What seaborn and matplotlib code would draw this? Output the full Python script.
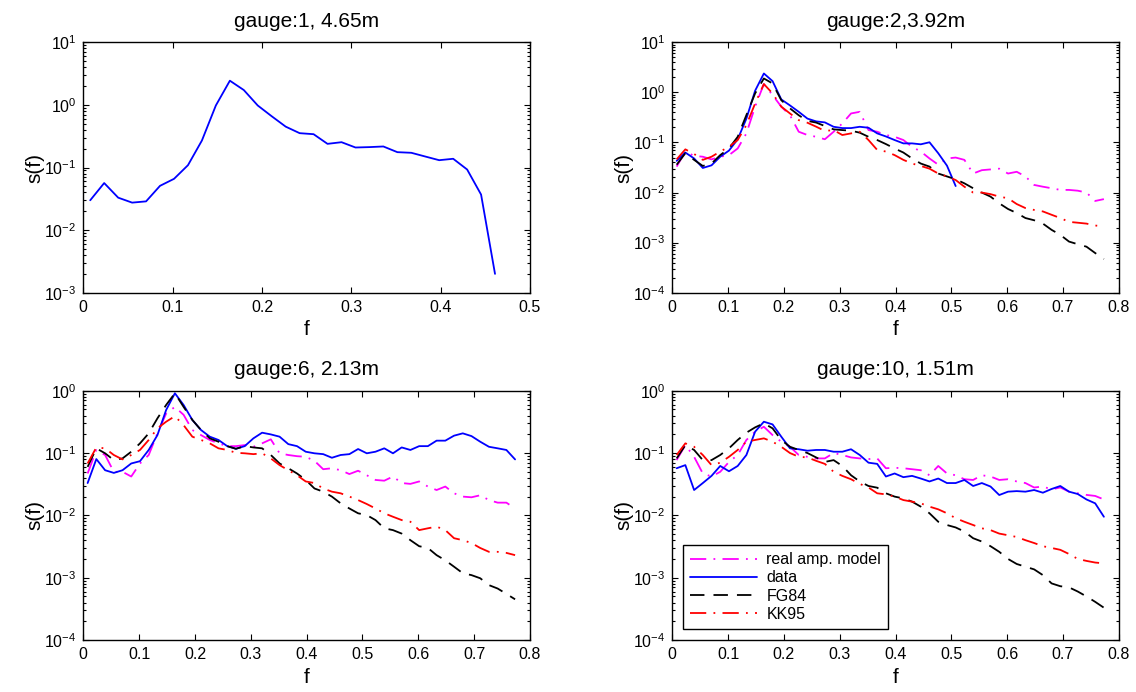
import numpy as np
import pandas as pd
import matplotlib
matplotlib.use("Agg")
import matplotlib.pyplot as plt
from matplotlib.ticker import LogLocator, NullFormatter
import seaborn as sns

# ---------------- data ----------------
freq = [0.0078, 0.0234, 0.0391, 0.0547, 0.0703, 0.0859, 0.1016, 0.1172, 0.1328, 0.1484,
        0.1641, 0.1797, 0.1953, 0.2109, 0.2266, 0.2422, 0.2578, 0.2734, 0.2891, 0.3047,
        0.3203, 0.3359, 0.3516, 0.3672, 0.3828, 0.3984, 0.4141, 0.4297, 0.4453, 0.4609,
        0.4766, 0.4922, 0.5078, 0.5234, 0.5391, 0.5547, 0.5703, 0.5859, 0.6016, 0.6172,
        0.6328, 0.6484, 0.6641, 0.6797, 0.6953, 0.7109, 0.7266, 0.7422, 0.7578, 0.7734]

titles = ["gauge:1, 4.65m", "gauge:2,3.92m", "gauge:6, 2.13m", "gauge:10, 1.51m"]
series_names = ["real amp. model", "data", "FG84", "KK95"]

g1_data = [0.030, 0.0565, 0.033, 0.0275, 0.0288, 0.051, 0.066, 0.109, 0.27, 0.98,
           2.44, 1.73, 0.98, 0.66, 0.45, 0.354, 0.341, 0.239, 0.254, 0.209,
           0.212, 0.217, 0.176, 0.172, 0.150, 0.131, 0.138, 0.093, 0.037, 0.0020]

g2_data = [0.043, 0.063, 0.048, 0.031, 0.035, 0.052, 0.069, 0.116, 0.30, 1.08,
           2.39, 1.68, 0.725, 0.55, 0.41, 0.30, 0.264, 0.252, 0.206, 0.194,
           0.194, 0.206, 0.197, 0.152, 0.132, 0.112, 0.096, 0.096, 0.092, 0.101,
           0.061, 0.0345, 0.0135]
g2_fg84 = [0.036, 0.061, 0.045, 0.034, 0.038, 0.056, 0.076, 0.13, 0.353, 0.955,
           1.9, 1.51, 0.70, 0.48, 0.35, 0.27, 0.25, 0.213, 0.183, 0.177,
           0.172, 0.157, 0.13, 0.112, 0.093, 0.076, 0.063, 0.048, 0.038, 0.033,
           0.024, 0.021, 0.0184, 0.0153, 0.0122, 0.0100, 0.0083, 0.0061, 0.0047, 0.0039,
           0.0031, 0.0028, 0.0024, 0.0018, 0.00143, 0.00105, 0.00093, 0.00083, 0.00062, 0.00047]
g2_kk95 = [0.046, 0.073, 0.059, 0.045, 0.052, 0.066, 0.082, 0.112, 0.223, 0.60,
           1.47, 0.955, 0.52, 0.38, 0.28, 0.248, 0.207, 0.17, 0.177, 0.141,
           0.152, 0.164, 0.112, 0.071, 0.066, 0.056, 0.045, 0.038, 0.034, 0.030,
           0.024, 0.021, 0.0178, 0.0131, 0.0100, 0.0100, 0.0093, 0.0083, 0.0077, 0.0059,
           0.0049, 0.0045, 0.0042, 0.0036, 0.0031, 0.0026, 0.0025, 0.0024, 0.0022, 0.0021]
g2_real = [0.033, 0.066, 0.054, 0.052, 0.046, 0.052, 0.056, 0.076, 0.152, 0.52,
           1.47, 0.885, 0.52, 0.35, 0.164, 0.141, 0.13, 0.116, 0.164, 0.24,
           0.38, 0.41, 0.177, 0.164, 0.141, 0.13, 0.112, 0.082, 0.066, 0.048,
           0.036, 0.048, 0.050, 0.045, 0.024, 0.028, 0.029, 0.030, 0.024, 0.026,
           0.021, 0.0142, 0.0131, 0.0122, 0.0113, 0.0113, 0.0109, 0.0100, 0.0068, 0.0074]

g6_data = [0.033, 0.080, 0.053, 0.048, 0.053, 0.068, 0.074, 0.112, 0.194, 0.49,
           0.91, 0.59, 0.34, 0.234, 0.183, 0.162, 0.129, 0.117, 0.129, 0.172,
           0.212, 0.199, 0.183, 0.139, 0.129, 0.105, 0.099, 0.096, 0.084, 0.093,
           0.096, 0.116, 0.099, 0.105, 0.119, 0.099, 0.123, 0.112, 0.129, 0.129,
           0.158, 0.158, 0.19, 0.207, 0.187, 0.152, 0.126, 0.119, 0.112, 0.079]
g6_fg84 = [0.06, 0.119, 0.099, 0.077, 0.082, 0.105, 0.143, 0.207, 0.36, 0.59,
           0.91, 0.55, 0.34, 0.234, 0.172, 0.152, 0.129, 0.117, 0.129, 0.123,
           0.119, 0.093, 0.068, 0.057, 0.047, 0.037, 0.027, 0.024, 0.020, 0.0156,
           0.0129, 0.0108, 0.0101, 0.0084, 0.0062, 0.0058, 0.0051, 0.0040, 0.0032, 0.0030,
           0.0023, 0.0019, 0.0015, 0.00118, 0.0011, 0.00098, 0.00076, 0.00067, 0.00055, 0.00045]
g6_kk95 = [0.068, 0.123, 0.119, 0.093, 0.079, 0.093, 0.112, 0.162, 0.249, 0.318,
           0.39, 0.28, 0.183, 0.162, 0.143, 0.119, 0.112, 0.101, 0.099, 0.096,
           0.099, 0.082, 0.064, 0.053, 0.044, 0.035, 0.033, 0.027, 0.024, 0.0226,
           0.020, 0.0176, 0.0152, 0.0129, 0.0108, 0.0095, 0.0084, 0.0079, 0.0058, 0.0062,
           0.0066, 0.0058, 0.0043, 0.0040, 0.0036, 0.0030, 0.0026, 0.0026, 0.0025, 0.0023]
g6_real = [0.047, 0.112, 0.093, 0.050, 0.050, 0.042, 0.068, 0.093, 0.207, 0.43,
           0.55, 0.41, 0.234, 0.194, 0.162, 0.143, 0.129, 0.129, 0.134, 0.126,
           0.143, 0.166, 0.099, 0.093, 0.089, 0.087, 0.075, 0.055, 0.057, 0.053,
           0.046, 0.052, 0.044, 0.037, 0.036, 0.042, 0.033, 0.032, 0.035, 0.029,
           0.0255, 0.029, 0.0226, 0.020, 0.0195, 0.021, 0.0176, 0.016, 0.016, 0.0129]

g10_data = [0.057, 0.064, 0.0255, 0.033, 0.043, 0.062, 0.051, 0.062, 0.093, 0.22,
            0.318, 0.288, 0.183, 0.119, 0.115, 0.109, 0.112, 0.112, 0.105, 0.105,
            0.115, 0.093, 0.070, 0.067, 0.042, 0.047, 0.041, 0.043, 0.039, 0.035,
            0.039, 0.033, 0.033, 0.037, 0.0296, 0.033, 0.029, 0.0212, 0.024, 0.0245,
            0.024, 0.0255, 0.0231, 0.0265, 0.0296, 0.024, 0.022, 0.018, 0.0156, 0.0095]
g10_fg84 = [0.082, 0.134, 0.112, 0.077, 0.077, 0.093, 0.119, 0.162, 0.212, 0.258,
            0.30, 0.249, 0.162, 0.126, 0.112, 0.10, 0.085, 0.072, 0.077, 0.062,
            0.044, 0.035, 0.0296, 0.0278, 0.0226, 0.020, 0.0187, 0.0166, 0.0138, 0.0108,
            0.0079, 0.0070, 0.0064, 0.0055, 0.0043, 0.0038, 0.0032, 0.0026, 0.0020, 0.00166,
            0.0015, 0.00136, 0.0011, 0.00081, 0.00073, 0.0007, 0.0006, 0.0005, 0.00041, 0.00033]
g10_kk95 = [0.093, 0.143, 0.126, 0.093, 0.064, 0.07, 0.087, 0.112, 0.152, 0.162,
            0.172, 0.152, 0.126, 0.10, 0.087, 0.085, 0.075, 0.067, 0.050, 0.043,
            0.038, 0.032, 0.028, 0.0226, 0.0217, 0.020, 0.0176, 0.0166, 0.0156, 0.0138,
            0.0125, 0.0108, 0.0090, 0.0079, 0.007, 0.0062, 0.0058, 0.0051, 0.0048, 0.0045,
            0.0040, 0.0036, 0.0032, 0.0030, 0.0028, 0.0024, 0.0020, 0.00186, 0.00175, 0.0017]
g10_real = [0.077, 0.134, 0.087, 0.047, 0.042, 0.05, 0.072, 0.093, 0.162, 0.22,
            0.264, 0.194, 0.152, 0.126, 0.093, 0.087, 0.082, 0.082, 0.10, 0.093,
            0.085, 0.082, 0.08, 0.082, 0.057, 0.058, 0.057, 0.055, 0.053, 0.044,
            0.062, 0.047, 0.044, 0.038, 0.037, 0.044, 0.042, 0.037, 0.038, 0.035,
            0.033, 0.028, 0.029, 0.0261, 0.028, 0.024, 0.0226, 0.0213, 0.0205, 0.018]

xticks_a = [0, 0.1, 0.2, 0.3, 0.4, 0.5]
xticklabels_a = ["0", "0.1", "0.2", "0.3", "0.4", "0.5"]
xticks_b = [0, 0.1, 0.2, 0.3, 0.4, 0.5, 0.6, 0.7, 0.8]
xticklabels_b = ["0", "0.1", "0.2", "0.3", "0.4", "0.5", "0.6", "0.7", "0.8"]

# ---------------- style ----------------
sns.set_theme(style="ticks")
plt.rcParams["font.family"] = ["Liberation Sans", "DejaVu Sans"]
plt.rcParams["mathtext.fontset"] = "custom"
plt.rcParams["mathtext.rm"] = "Liberation Sans"
plt.rcParams["mathtext.it"] = "Liberation Sans:italic"
plt.rcParams["axes.linewidth"] = 1.0
plt.rcParams["text.color"] = "black"
plt.rcParams["axes.labelcolor"] = "black"

styles = {
    "real amp. model": dict(color="#ff00ff", linestyle=(0, (9, 4, 1, 4))),
    "data": dict(color="#0000ff", linestyle="-"),
    "FG84": dict(color="#000000", linestyle=(0, (8, 5))),
    "KK95": dict(color="#ff0000", linestyle=(0, (9, 4, 1, 4))),
}

fig = plt.figure(figsize=(11.36, 6.92), dpi=100)
pos = [
    [0.0733, 0.577, 0.3932, 0.3618],
    [0.5918, 0.577, 0.3930, 0.3618],
    [0.0733, 0.0751, 0.3932, 0.3603],
    [0.5918, 0.0751, 0.3930, 0.3603],
]
axes = [fig.add_axes(p) for p in pos]

panels = [
    [("data", g1_data)],
    [("real amp. model", g2_real), ("data", g2_data), ("FG84", g2_fg84), ("KK95", g2_kk95)],
    [("real amp. model", g6_real), ("data", g6_data), ("FG84", g6_fg84), ("KK95", g6_kk95)],
    [("real amp. model", g10_real), ("data", g10_data), ("FG84", g10_fg84), ("KK95", g10_kk95)],
]
ylims = [(1e-3, 1e1), (1e-4, 1e1), (1e-4, 1e0), (1e-4, 1e0)]

for i, ax in enumerate(axes):
    for name, vals in panels[i]:
        df = pd.DataFrame({"f": freq[:len(vals)], "s": vals})
        sns.lineplot(data=df, x="f", y="s", ax=ax, label=name, lw=1.3,
                     legend=False, **styles[name])
    ax.set_yscale("log")
    ax.set_ylim(*ylims[i])
    if i == 0:
        ax.set_xlim(0, 0.5)
        ax.set_xticks(xticks_a)
        ax.set_xticklabels(xticklabels_a)
    else:
        ax.set_xlim(0, 0.8)
        ax.set_xticks(xticks_b)
        ax.set_xticklabels(xticklabels_b)
    ax.yaxis.set_major_locator(LogLocator(base=10, numticks=20))
    ax.yaxis.set_minor_locator(LogLocator(base=10, subs=np.arange(2, 10), numticks=100))
    ax.yaxis.set_minor_formatter(NullFormatter())
    ax.tick_params(which="both", direction="in", top=True, right=True,
                   labelsize=11.5, colors="black", width=0.8)
    ax.tick_params(which="major", length=4.5, pad=5)
    ax.tick_params(which="minor", length=2.2)
    ax.set_title(titles[i], fontsize=15, pad=11, color="black")
    ax.set_xlabel("f", fontsize=15, labelpad=4, color="black")
    ax.set_ylabel("s(f)", fontsize=15, labelpad=0, color="black")
    for sp in ax.spines.values():
        sp.set_visible(True)
        sp.set_color("black")

leg = axes[3].legend(loc="lower left", bbox_to_anchor=(0.023, 0.044), borderaxespad=0,
                     fontsize=11.5, handlelength=4.2, labelspacing=0.2, frameon=True,
                     fancybox=False, framealpha=1, edgecolor="black", borderpad=0.45,
                     handletextpad=0.6)
leg.get_frame().set_linewidth(1.0)
for t in leg.get_texts():
    t.set_color("black")

fig.savefig("out.png", dpi=100)
